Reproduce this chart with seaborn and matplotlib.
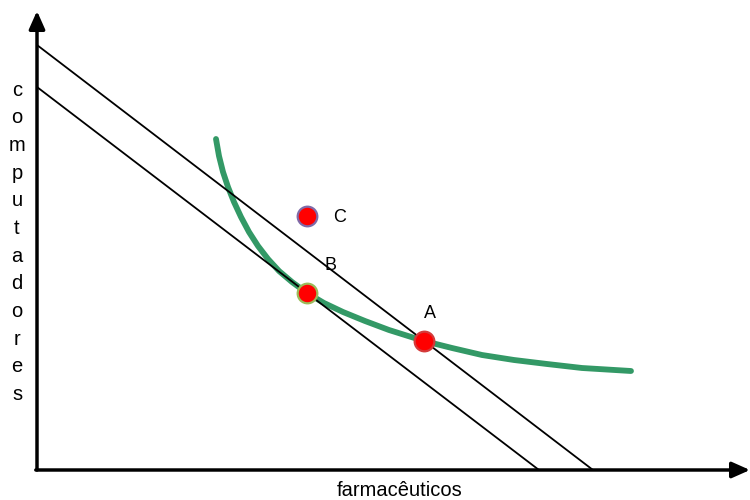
import matplotlib
matplotlib.use("Agg")
import matplotlib.pyplot as plt
import seaborn as sns
import pandas as pd

# Budget lines (x, y endpoints in chart units)
budget_hi_x = [0, 556]
budget_hi_y = [425, 0]
budget_lo_x = [0, 502]
budget_lo_y = [383, 0]

# Indifference curve (read points)
curve_x = [179, 182, 186, 191, 197, 204, 212, 221, 231, 242, 255, 270, 287, 306, 328, 352, 387, 415, 445, 477, 510, 545, 594]
curve_y = [331, 314, 298, 283, 268, 253, 238, 224, 211, 199, 188, 177, 167, 158, 149, 140, 129, 122, 115, 110, 106, 102, 99]

# Labelled points
point_labels = ["A", "B", "C"]
point_x = [387, 270, 270]
point_y = [129, 177, 254]
point_edges = ["#d43a3a", "#9bbb59", "#7f6aa8"]

x_label = "farmacêuticos"
y_label = "computadores"

sns.set_theme(style="white")
plt.rcParams['font.family'] = ['Liberation Sans', 'DejaVu Sans']

fig = plt.figure(figsize=(7.5, 5), dpi=100)
ax = fig.add_axes([0, 0, 1, 1])
ax.set_xlim(-37, 713)
ax.set_ylim(-30, 470)
ax.axis("off")

df_hi = pd.DataFrame({"x": budget_hi_x, "y": budget_hi_y})
df_lo = pd.DataFrame({"x": budget_lo_x, "y": budget_lo_y})

df_curve = pd.DataFrame({"x": curve_x, "y": curve_y})
sns.lineplot(data=df_curve, x="x", y="y", ax=ax, color="#339966", linewidth=4.2,
             sort=False, solid_capstyle="round", solid_joinstyle="round", zorder=3)

sns.lineplot(data=df_hi, x="x", y="y", ax=ax, color="black", linewidth=1.3, sort=False, zorder=4)
sns.lineplot(data=df_lo, x="x", y="y", ax=ax, color="black", linewidth=1.3, sort=False, zorder=4)

# axes with arrows
ax.annotate("", xy=(0, 459), xytext=(0, 0),
            arrowprops=dict(arrowstyle="-|>,head_length=0.9,head_width=0.4", color="black", lw=2.5, shrinkA=0, shrinkB=0))
ax.annotate("", xy=(713, 0), xytext=(-1.2, 0),
            arrowprops=dict(arrowstyle="-|>,head_length=0.9,head_width=0.4", color="black", lw=2.5, shrinkA=0, shrinkB=0))

df_pts = pd.DataFrame({"x": point_x, "y": point_y, "label": point_labels})
for i, row in df_pts.iterrows():
    sns.scatterplot(x=[row["x"]], y=[row["y"]], ax=ax, s=200, color="#ff0000",
                    edgecolor=point_edges[i], linewidth=1.6, zorder=5)

offsets = {"A": (6, 27), "B": (23, 28), "C": (33, -1)}
for lab, px, py in zip(point_labels, point_x, point_y):
    dx, dy = offsets[lab]
    ax.text(px + dx, py + dy, lab, fontsize=13, ha="center", va="center", color="black", zorder=6)

ax.text(363, -21, x_label, fontsize=14.5, ha="center", va="center", color="black")
for k, ch in enumerate(y_label):
    ax.text(-20, 380 - k * 27.7, ch, fontsize=14.5, ha="center", va="center", color="black")

fig.savefig("out.png", dpi=100)
